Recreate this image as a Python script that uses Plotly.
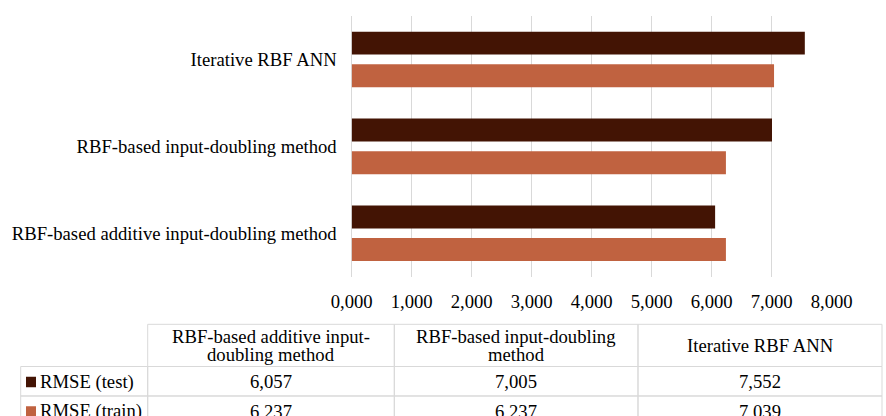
import plotly.graph_objects as go

categories = ["RBF-based additive input-doubling method",
              "RBF-based input-doubling method",
              "Iterative RBF ANN"]
header_labels = ["RBF-based additive input-<br>doubling method",
                 "RBF-based input-doubling<br>method",
                 "Iterative RBF ANN"]
rmse_test = [6.057, 7.005, 7.552]
rmse_train = [6.237, 6.237, 7.039]
series_names = ["RMSE (test)", "RMSE (train)"]
x_ticks = [0, 1, 2, 3, 4, 5, 6, 7, 8]

c_test = "#431404"
c_train = "#C06240"
grid = "#D9D9D9"
font_fam = "Liberation Serif, Times New Roman, serif"
FS = 18.67
W, H = 886, 416

def px(x):
    return x / W

def py(y):
    return 1 - y / H

fig = go.Figure()
fig.add_trace(go.Bar(y=categories, x=rmse_train, orientation="h", name=series_names[1],
                     marker=dict(color=c_train, line=dict(width=0)), showlegend=False))
fig.add_trace(go.Bar(y=categories, x=rmse_test, orientation="h", name=series_names[0],
                     marker=dict(color=c_test, line=dict(width=0)), showlegend=False))

def fmt(v):
    return f"{v:.3f}".replace(".", ",")

# ---- data table (below chart) ----
col_edges = [20.7, 147.7, 394.3, 638.0, 882.0]
head_top, head_bot = 324.3, 366.5
row_edges = [366.5, 396.0, 425.5]
shapes = []
annotations = []
line = dict(color=grid, width=1)

for i, lab in enumerate(header_labels):
    x0, x1 = col_edges[i + 1], col_edges[i + 2]
    shapes.append(dict(type="rect", xref="paper", yref="paper",
                       x0=px(x0), x1=px(x1), y0=py(head_bot), y1=py(head_top),
                       line=line, fillcolor="rgba(0,0,0,0)", layer="above"))
    parts = lab.split("<br>")
    n = len(parts)
    cy = (head_top + head_bot) / 2
    for k, part in enumerate(parts):
        yy = cy + (k - (n - 1) / 2) * 18.5
        annotations.append(dict(xref="paper", yref="paper", x=px((x0 + x1) / 2), y=py(yy),
                                text=part, showarrow=False, xanchor="center", yanchor="middle",
                                font=dict(family=font_fam, size=FS, color="#000000")))

row_vals = [rmse_test, rmse_train]
row_cols = [c_test, c_train]
for r in range(2):
    y0, y1 = row_edges[r], row_edges[r + 1]
    cy = (y0 + y1) / 2 + 0.5
    for c in range(4):
        x0, x1 = col_edges[c], col_edges[c + 1]
        shapes.append(dict(type="rect", xref="paper", yref="paper",
                           x0=px(x0), x1=px(x1), y0=py(y1), y1=py(y0),
                           line=line, fillcolor="rgba(0,0,0,0)", layer="above"))
    shapes.append(dict(type="rect", xref="paper", yref="paper",
                       x0=px(26), x1=px(36), y0=py(cy + 5.5), y1=py(cy - 5),
                       line=dict(width=0), fillcolor=row_cols[r], layer="above"))
    annotations.append(dict(xref="paper", yref="paper", x=px(37.5), y=py(cy),
                            text=series_names[r], showarrow=False, xanchor="left", yanchor="middle",
                            font=dict(family=font_fam, size=FS, color="#000000")))
    for c, v in enumerate(row_vals[r]):
        x0, x1 = col_edges[c + 1], col_edges[c + 2]
        annotations.append(dict(xref="paper", yref="paper", x=px((x0 + x1) / 2), y=py(cy),
                                text=fmt(v), showarrow=False, xanchor="center", yanchor="middle",
                                font=dict(family=font_fam, size=FS, color="#000000")))

fig.update_layout(
    width=W, height=H,
    margin=dict(l=0, r=0, t=0, b=0, pad=0),
    paper_bgcolor="white", plot_bgcolor="white",
    barmode="group", bargap=0.248, bargroupgap=0.297,
    separators=",.",
    font=dict(family=font_fam, size=FS, color="#000000"),
    shapes=shapes, annotations=annotations,
    xaxis=dict(domain=[351.7 / W, 831.7 / W], range=[0, 8], tickvals=x_ticks,
               tickformat=".3f", showgrid=True, gridcolor=grid, gridwidth=1,
               zeroline=True, zerolinecolor=grid, zerolinewidth=1,
               showline=False, ticks="", ticklabelstandoff=12, automargin=False,
               tickfont=dict(family=font_fam, size=FS, color="#000000")),
    yaxis=dict(domain=[1 - 276.7 / H, 1 - 16 / H], type="category",
               categoryorder="array", categoryarray=categories,
               showgrid=False, zeroline=False, showline=False, ticks="",
               ticklabelstandoff=14, automargin=False,
               tickfont=dict(family=font_fam, size=FS, color="#000000")),
)

fig.write_html("out.html", config={"displayModeBar": False},
               post_script="document.body.style.margin='0px';document.body.style.overflow='hidden';")
